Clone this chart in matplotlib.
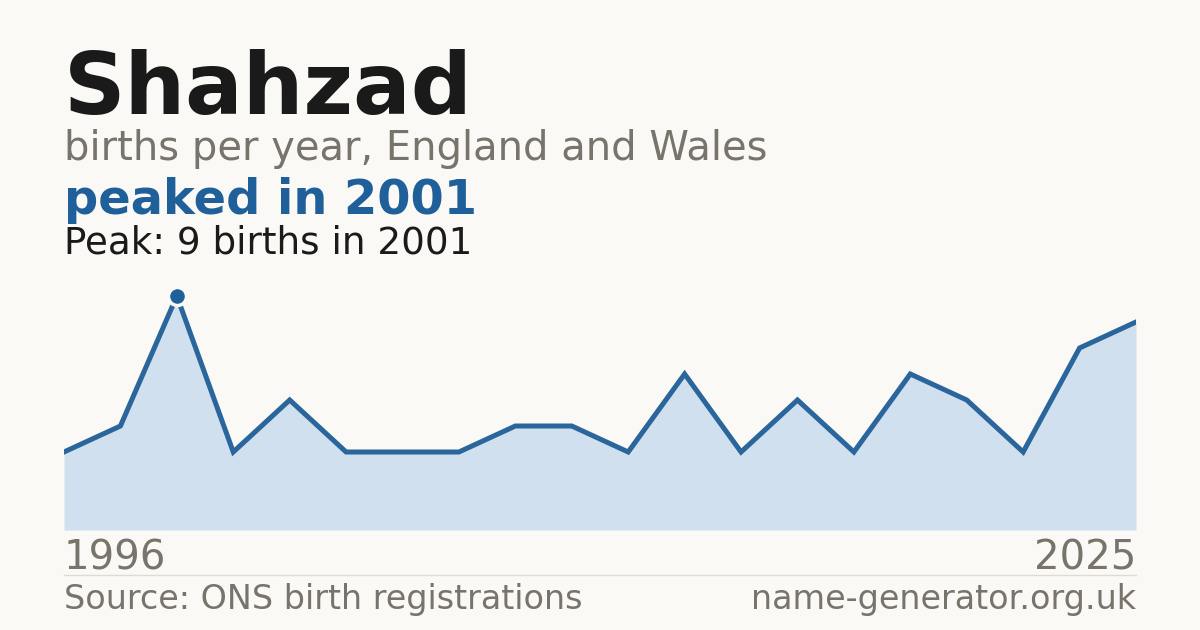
import matplotlib
matplotlib.use("Agg")
import matplotlib.pyplot as plt

years = [1996, 1999, 2001, 2002, 2003, 2004, 2005, 2006, 2008, 2009,
         2010, 2012, 2013, 2015, 2016, 2018, 2019, 2021, 2024, 2025]
births = [3, 4, 9, 3, 5, 3, 3, 3, 4, 4, 3, 6, 3, 5, 3, 6, 5, 3, 7, 8]

title = "Shahzad"
subtitle = "births per year, England and Wales"
headline = "peaked in 2001"
peak_text = "Peak: 9 births in 2001"
source = "Source: ONS birth registrations"
site = "name-generator.org.uk"

BG = "#faf9f5"
BLUE = "#20609a"
LINE = "#2a659b"
FILL = "#d0e0ef"
GREY = "#78736b"
DARK = "#1a1a1a"

W, H = 1200, 630
fig = plt.figure(figsize=(W / 100, H / 100), dpi=100, facecolor=BG)
plt.rcParams['font.family'] = ['DejaVu Sans']

def fx(x):
    return x / W

def fy(y):
    return 1 - y / H

ax = fig.add_axes([fx(64), fy(530), fx(1136) - fx(64), (530 - 270) / H])
ax.set_facecolor(BG)
ax.patch.set_alpha(0)
xs = list(range(len(years)))
ax.fill_between(xs, births, 0, color=FILL, lw=0)
ax.plot(xs, births, color=LINE, lw=3.6, solid_joinstyle='miter')
pk = births.index(max(births))
ax.plot([xs[pk]], [births[pk]], 'o', color=BLUE, ms=13, mec=BG, mew=2.5, zorder=5)
ax.set_xlim(0, len(years) - 1)
ax.set_ylim(0, 10)
ax.axis('off')

fig.text(fx(64), fy(114), title, fontsize=61.5, fontweight='bold', color=DARK, va='baseline', ha='left')
fig.text(fx(64), fy(160), subtitle, fontsize=28.8, color=GREY, va='baseline', ha='left')
fig.text(fx(64), fy(214), headline, fontsize=34.5, fontweight='bold', color=BLUE, va='baseline', ha='left')
fig.text(fx(64), fy(254), peak_text, fontsize=26.8, color=DARK, va='baseline', ha='left')
fig.text(fx(64), fy(569), str(years[0]), fontsize=29, color=GREY, va='baseline', ha='left')
fig.text(fx(1136), fy(569), str(years[-1]), fontsize=29, color=GREY, va='baseline', ha='right')
fig.add_artist(plt.Line2D([fx(64), fx(1136)], [fy(574.5), fy(574.5)], color="#dedbd3", lw=1, transform=fig.transFigure))
fig.text(fx(64), fy(609), source, fontsize=24, color=GREY, va='baseline', ha='left')
fig.text(fx(1136), fy(609), site, fontsize=24, color=GREY, va='baseline', ha='right')

fig.savefig("out.png", dpi=100, facecolor=BG)
